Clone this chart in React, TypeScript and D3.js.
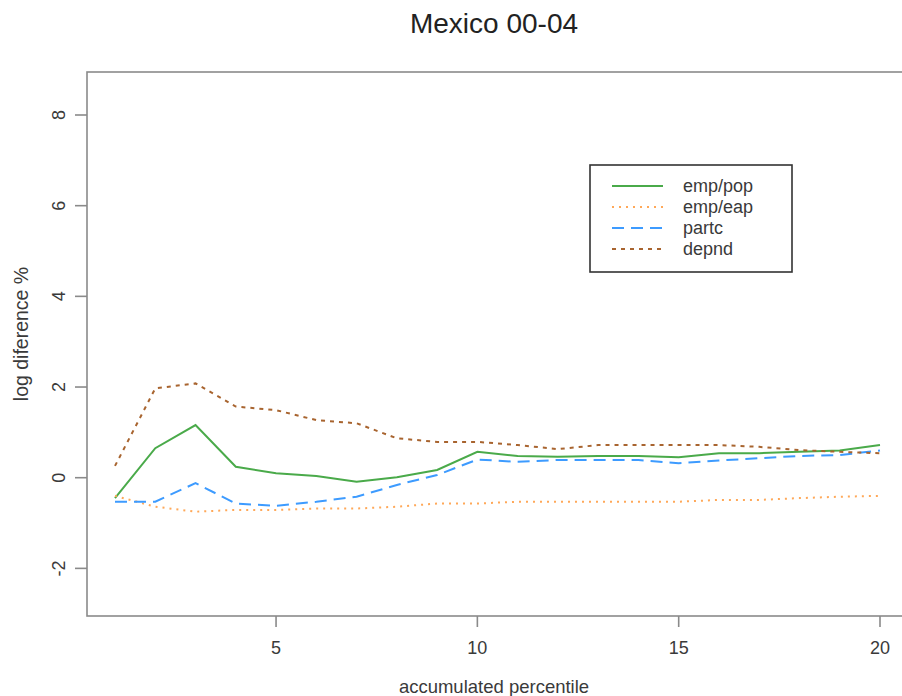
import * as d3 from 'd3';

// accumulated percentile 1..20
const percentiles = d3.range(1, 21);

const empPop = [-0.45, 0.65, 1.16, 0.24, 0.1, 0.04, -0.09, 0.01, 0.17, 0.57, 0.48, 0.46, 0.48, 0.48, 0.45, 0.54, 0.54, 0.57, 0.6, 0.72];
const empEap = [-0.4, -0.64, -0.75, -0.71, -0.71, -0.68, -0.68, -0.64, -0.57, -0.57, -0.53, -0.53, -0.53, -0.53, -0.53, -0.49, -0.49, -0.45, -0.42, -0.4];
const partc = [-0.53, -0.53, -0.12, -0.57, -0.62, -0.53, -0.42, -0.16, 0.06, 0.4, 0.35, 0.39, 0.39, 0.39, 0.32, 0.38, 0.43, 0.48, 0.5, 0.6];
const depnd = [0.26, 1.97, 2.08, 1.57, 1.49, 1.27, 1.2, 0.87, 0.79, 0.79, 0.72, 0.63, 0.72, 0.72, 0.72, 0.72, 0.68, 0.61, 0.57, 0.54];

const xTicks = [5, 10, 15, 20];
const yTicks = [-2, 0, 2, 4, 6, 8];

const series = [
  { name: 'emp/pop', values: empPop, color: '#4aaa4a', dash: null },
  { name: 'emp/eap', values: empEap, color: '#ffa858', dash: '2 5' },
  { name: 'partc', values: partc, color: '#3d9bff', dash: '12 7' },
  { name: 'depnd', values: depnd, color: '#a8642f', dash: '4 5' },
];

const W = 902;
const H = 696;
const box = { left: 87, top: 72, right: 912, bottom: 616 };
const font = '"Liberation Sans", Arial, Helvetica, sans-serif';
const axisColor = '#8a8a8a';
const textColor = '#3a3a3a';

export default function App() {
  const x = d3.scaleLinear().domain([1, 20]).range([115, 880]);
  const y = d3.scaleLinear().domain([0, 8]).range([477.7, 115]);

  const line = d3.line<number>()
    .x((_, i) => x(percentiles[i]))
    .y(d => y(d));

  const legend = { x: 590, y: 165, w: 202, h: 107 };

  return (
    <>
      <style>{'body{margin:0}'}</style>
      <svg width={W} height={H} style={{ display: 'block', background: '#fff' }}>
        {/* title */}
        <text x={494} y={33} textAnchor="middle" fontFamily={font} fontSize={28} fill="#222">
          Mexico 00-04
        </text>

        {/* series */}
        {series.map(s => (
          <path key={s.name} d={line(s.values) || ''} fill="none" stroke={s.color}
            strokeWidth={2} strokeDasharray={s.dash || undefined} />
        ))}

        {/* plot box, right side runs past the picture edge */}
        <rect x={box.left} y={box.top} width={box.right - box.left} height={box.bottom - box.top}
          fill="none" stroke={axisColor} strokeWidth={1.6} />

        {/* x axis */}
        {xTicks.map(t => (
          <g key={t}>
            <line x1={x(t)} x2={x(t)} y1={box.bottom} y2={box.bottom + 11} stroke={axisColor} strokeWidth={1.6} />
            <text x={x(t)} y={654} textAnchor="middle" fontFamily={font} fontSize={18} fill={textColor}>{t}</text>
          </g>
        ))}
        <text x={494} y={693} textAnchor="middle" fontFamily={font} fontSize={18.5} fill={textColor}>
          accumulated percentile
        </text>

        {/* y axis */}
        {yTicks.map(t => (
          <g key={t}>
            <line x1={box.left - 12} x2={box.left} y1={y(t)} y2={y(t)} stroke={axisColor} strokeWidth={1.6} />
            <text transform={`translate(65,${y(t)}) rotate(-90)`} textAnchor="middle"
              fontFamily={font} fontSize={18} fill={textColor}>{t}</text>
          </g>
        ))}
        <text transform={`translate(28,334) rotate(-90)`} textAnchor="middle"
          fontFamily={font} fontSize={19.5} fill={textColor}>
          log diference %
        </text>

        {/* legend */}
        <rect x={legend.x} y={legend.y} width={legend.w} height={legend.h} fill="#fff"
          stroke="#333" strokeWidth={1.6} />
        {series.map((s, i) => {
          const ly = 186 + i * 21;
          return (
            <g key={s.name}>
              <line x1={612} x2={663} y1={ly} y2={ly} stroke={s.color} strokeWidth={2}
                strokeDasharray={s.dash || undefined} />
              <text x={683} y={ly + 6} fontFamily={font} fontSize={18} fill={textColor}>{s.name}</text>
            </g>
          );
        })}
      </svg>
    </>
  );
}
